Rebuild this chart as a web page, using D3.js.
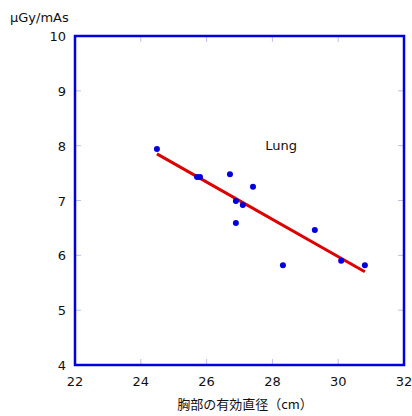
<!DOCTYPE html>
<html>
<head>
<meta charset="utf-8">
<script src="https://cdn.jsdelivr.net/npm/d3@7"></script>
<style>
  body { margin: 0; background: #fff; }
  text { font-family: "DejaVu Sans", "Noto Sans CJK JP", sans-serif; fill: #111; }
  text.jp { font-family: "Noto Sans CJK JP", sans-serif; }
</style>
</head>
<body>
<div id="chart"></div>
<script>
var diameter = [24.49, 25.71, 25.8, 26.71, 26.89, 27.1, 27.41, 26.89, 28.32, 29.29, 30.09, 30.81];
var dose = [7.94, 7.43, 7.43, 7.48, 6.99, 6.92, 7.25, 6.59, 5.82, 6.46, 5.90, 5.82];
var fitX = [24.49, 30.81];
var fitY = [7.85, 5.70];
var xTicks = [22, 24, 26, 28, 30, 32];
var yTicks = [4, 5, 6, 7, 8, 9, 10];

var width = 412, height = 416;
var margin = {left: 75, right: 8, top: 36, bottom: 51};

var svg = d3.select('#chart').append('svg')
    .attr('width', width)
    .attr('height', height);

var x = d3.scaleLinear().domain([22, 32]).range([margin.left, width - margin.right]);
var y = d3.scaleLinear().domain([4, 10]).range([height - margin.bottom, margin.top]);

// inner tick marks
svg.selectAll('line.xt')
    .data(xTicks.slice(1, -1))
    .enter().append('line')
    .attr('x1', function(d) { return x(d); })
    .attr('x2', function(d) { return x(d); })
    .attr('y1', y(4)).attr('y2', y(4) - 6)
    .attr('stroke', '#b8c0ee').attr('stroke-width', 1);
svg.selectAll('line.xt2')
    .data(xTicks.slice(1, -1))
    .enter().append('line')
    .attr('x1', function(d) { return x(d); })
    .attr('x2', function(d) { return x(d); })
    .attr('y1', y(10)).attr('y2', y(10) + 6)
    .attr('stroke', '#b8c0ee').attr('stroke-width', 1);
svg.selectAll('line.yt')
    .data(yTicks.slice(1, -1))
    .enter().append('line')
    .attr('x1', x(22)).attr('x2', x(22) + 6)
    .attr('y1', function(d) { return y(d); })
    .attr('y2', function(d) { return y(d); })
    .attr('stroke', '#b8c0ee').attr('stroke-width', 1);
svg.selectAll('line.yt2')
    .data(yTicks.slice(1, -1))
    .enter().append('line')
    .attr('x1', x(32)).attr('x2', x(32) - 6)
    .attr('y1', function(d) { return y(d); })
    .attr('y2', function(d) { return y(d); })
    .attr('stroke', '#b8c0ee').attr('stroke-width', 1);

// frame
svg.append('rect')
    .attr('x', x(22)).attr('y', y(10))
    .attr('width', x(32) - x(22)).attr('height', y(4) - y(10))
    .attr('fill', 'none')
    .attr('stroke', '#0000dd')
    .attr('stroke-width', 2.5);

// tick labels
svg.selectAll('text.xl')
    .data(xTicks)
    .enter().append('text')
    .attr('x', function(d) { return x(d); })
    .attr('y', y(4) + 21)
    .attr('text-anchor', 'middle')
    .attr('font-size', 13)
    .text(function(d) { return d; });
svg.selectAll('text.yl')
    .data(yTicks)
    .enter().append('text')
    .attr('x', x(22) - 9)
    .attr('y', function(d) { return y(d) + 5; })
    .attr('text-anchor', 'end')
    .attr('font-size', 13)
    .text(function(d) { return d; });

// regression line
var line = d3.line()
    .x(function(d) { return x(d[0]); })
    .y(function(d) { return y(d[1]); });
svg.append('path')
    .attr('d', line(d3.zip(fitX, fitY)))
    .attr('stroke', '#dd0000')
    .attr('stroke-width', 3)
    .attr('fill', 'none');

// points
svg.selectAll('circle')
    .data(d3.zip(diameter, dose))
    .enter().append('circle')
    .attr('cx', function(d) { return x(d[0]); })
    .attr('cy', function(d) { return y(d[1]); })
    .attr('r', 3)
    .attr('fill', '#0000dd');

svg.append('text')
    .attr('x', x(27.78)).attr('y', y(7.94) + 1)
    .attr('font-size', 13)
    .text('Lung');

// axis titles
svg.append('text')
    .attr('x', 10).attr('y', 22)
    .attr('font-size', 13)
    .text('μGy/mAs');
svg.append('text')
    .attr('class', 'jp')
    .attr('x', 245).attr('y', 409)
    .attr('text-anchor', 'middle')
    .attr('font-size', 13)
    .text('胸部の有効直径（cm）');
</script>
</body>
</html>
